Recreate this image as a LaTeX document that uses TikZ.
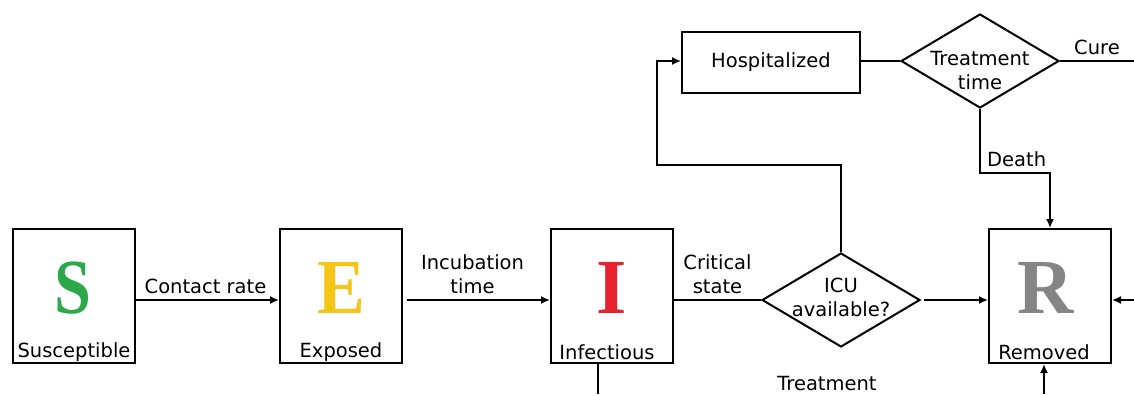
\documentclass[tikz,border=0pt]{standalone}
\usepackage{fontspec}
\setmainfont{DejaVu Sans}
\newfontfamily\bigserif{Liberation Serif}
\usetikzlibrary{shapes.geometric,arrows.meta}
\definecolor{sgreen}{HTML}{2BA84A}
\definecolor{eyellow}{HTML}{F5C518}
\definecolor{ired}{HTML}{E8212B}
\definecolor{rgray}{HTML}{858585}
\begin{document}
\begin{tikzpicture}[x=1pt,y=-1pt,
  every node/.style={font=\fontsize{19.5}{24}\selectfont, inner sep=0pt},
  comp/.style={draw, line width=2pt, minimum width=122pt, minimum height=134pt},
  bigl/.style={font=\fontsize{78}{80}\selectfont\bigserif\bfseries},
  dia/.style={draw, diamond, line width=2pt, minimum width=158pt, minimum height=94pt},
  hbox/.style={draw, line width=2pt, minimum width=178pt, minimum height=61pt},
  conn/.style={line width=1.6pt},
  arr/.style={conn, -{Latex[length=9pt,width=8pt]}},
  lab/.style={align=center}
]
\useasboundingbox (0,0) rectangle (1134,394);
\clip (0,0) rectangle (1134,394);
% compartments
\node[comp] (S) at (74,296) {};
\node[comp] (E) at (341,296) {};
\node[comp] (I) at (612,296) {};
\node[comp] (R) at (1050,296) {};
\node[bigl, text=sgreen, xscale=0.85] (Sl) at (73,288) {S};
\node[bigl, text=eyellow, xscale=0.92] (El) at (341,288) {E};
\node[bigl, text=ired] (Il) at (612,288) {I};
\node[bigl, text=rgray] (Rl) at (1046,288) {R};
\node (Sn) at (74,352) {Susceptible};
\node (En) at (341,352) {Exposed};
\node (In) at (607,352) {Infectious};
\node (Rn) at (1044,352) {Removed};
% decision shapes and hospital
\node[dia] (icu) at (841,300) {};
\node[lab] (icut) at (841,297) {ICU\\available?};
\node[hbox] (H) at (771,62) {Hospitalized};
\node[dia] (tt) at (980,61) {};
\node[lab] (ttt) at (980,71) {Treatment\\time};
% coordinates
\coordinate (y300) at (0,300);
\coordinate (c1) at (841,165);
\coordinate (c2) at (657,165);
\coordinate (c3) at (657,61);
\coordinate (d1) at (980,173);
\coordinate (d2) at (1050,173);
\coordinate (cureend) at (1134,61);
\coordinate (rin) at (1134,300);
\coordinate (rbot) at (1044,394);
\coordinate (ibot) at (598,394);
% connectors
\draw[arr] (S.east |- y300) -- (E.west |- y300) node[midway, above=5pt, xshift=-2pt] (cr) {Contact rate};
\draw[arr] ([xshift=4pt]E.east |- y300) -- (I.west |- y300) node[midway, above=5pt, lab, xshift=-6pt] (it) {Incubation\\time};
\draw[conn] (I.east |- y300) -- (icu.west) node[midway, above=5pt, lab] (cs) {Critical\\state};
\draw[arr] ([xshift=3pt]icu.east) -- (R.west |- y300);
\draw[arr] (icu.north) -- (c1) -- (c2) -- (c3) -- (H.west |- c3);
\draw[conn] (H.east |- tt) -- (tt.west);
\draw[conn] (tt.east) -- (cureend) node[pos=0.5, above=5pt] (cu) {Cure};
\draw[arr] (tt.south) -- (d1) -- (d2) -- (R.north);
\node[anchor=base west] (de) at (987,166) {Death};
\draw[arr] (rin) -- (R.east |- rin);
\draw[arr] (rbot) -- (R.south -| rbot);
\draw[conn] (I.south -| ibot) -- (ibot);
\node (tr) at (827,384) {Treatment};
\end{tikzpicture}
\end{document}
